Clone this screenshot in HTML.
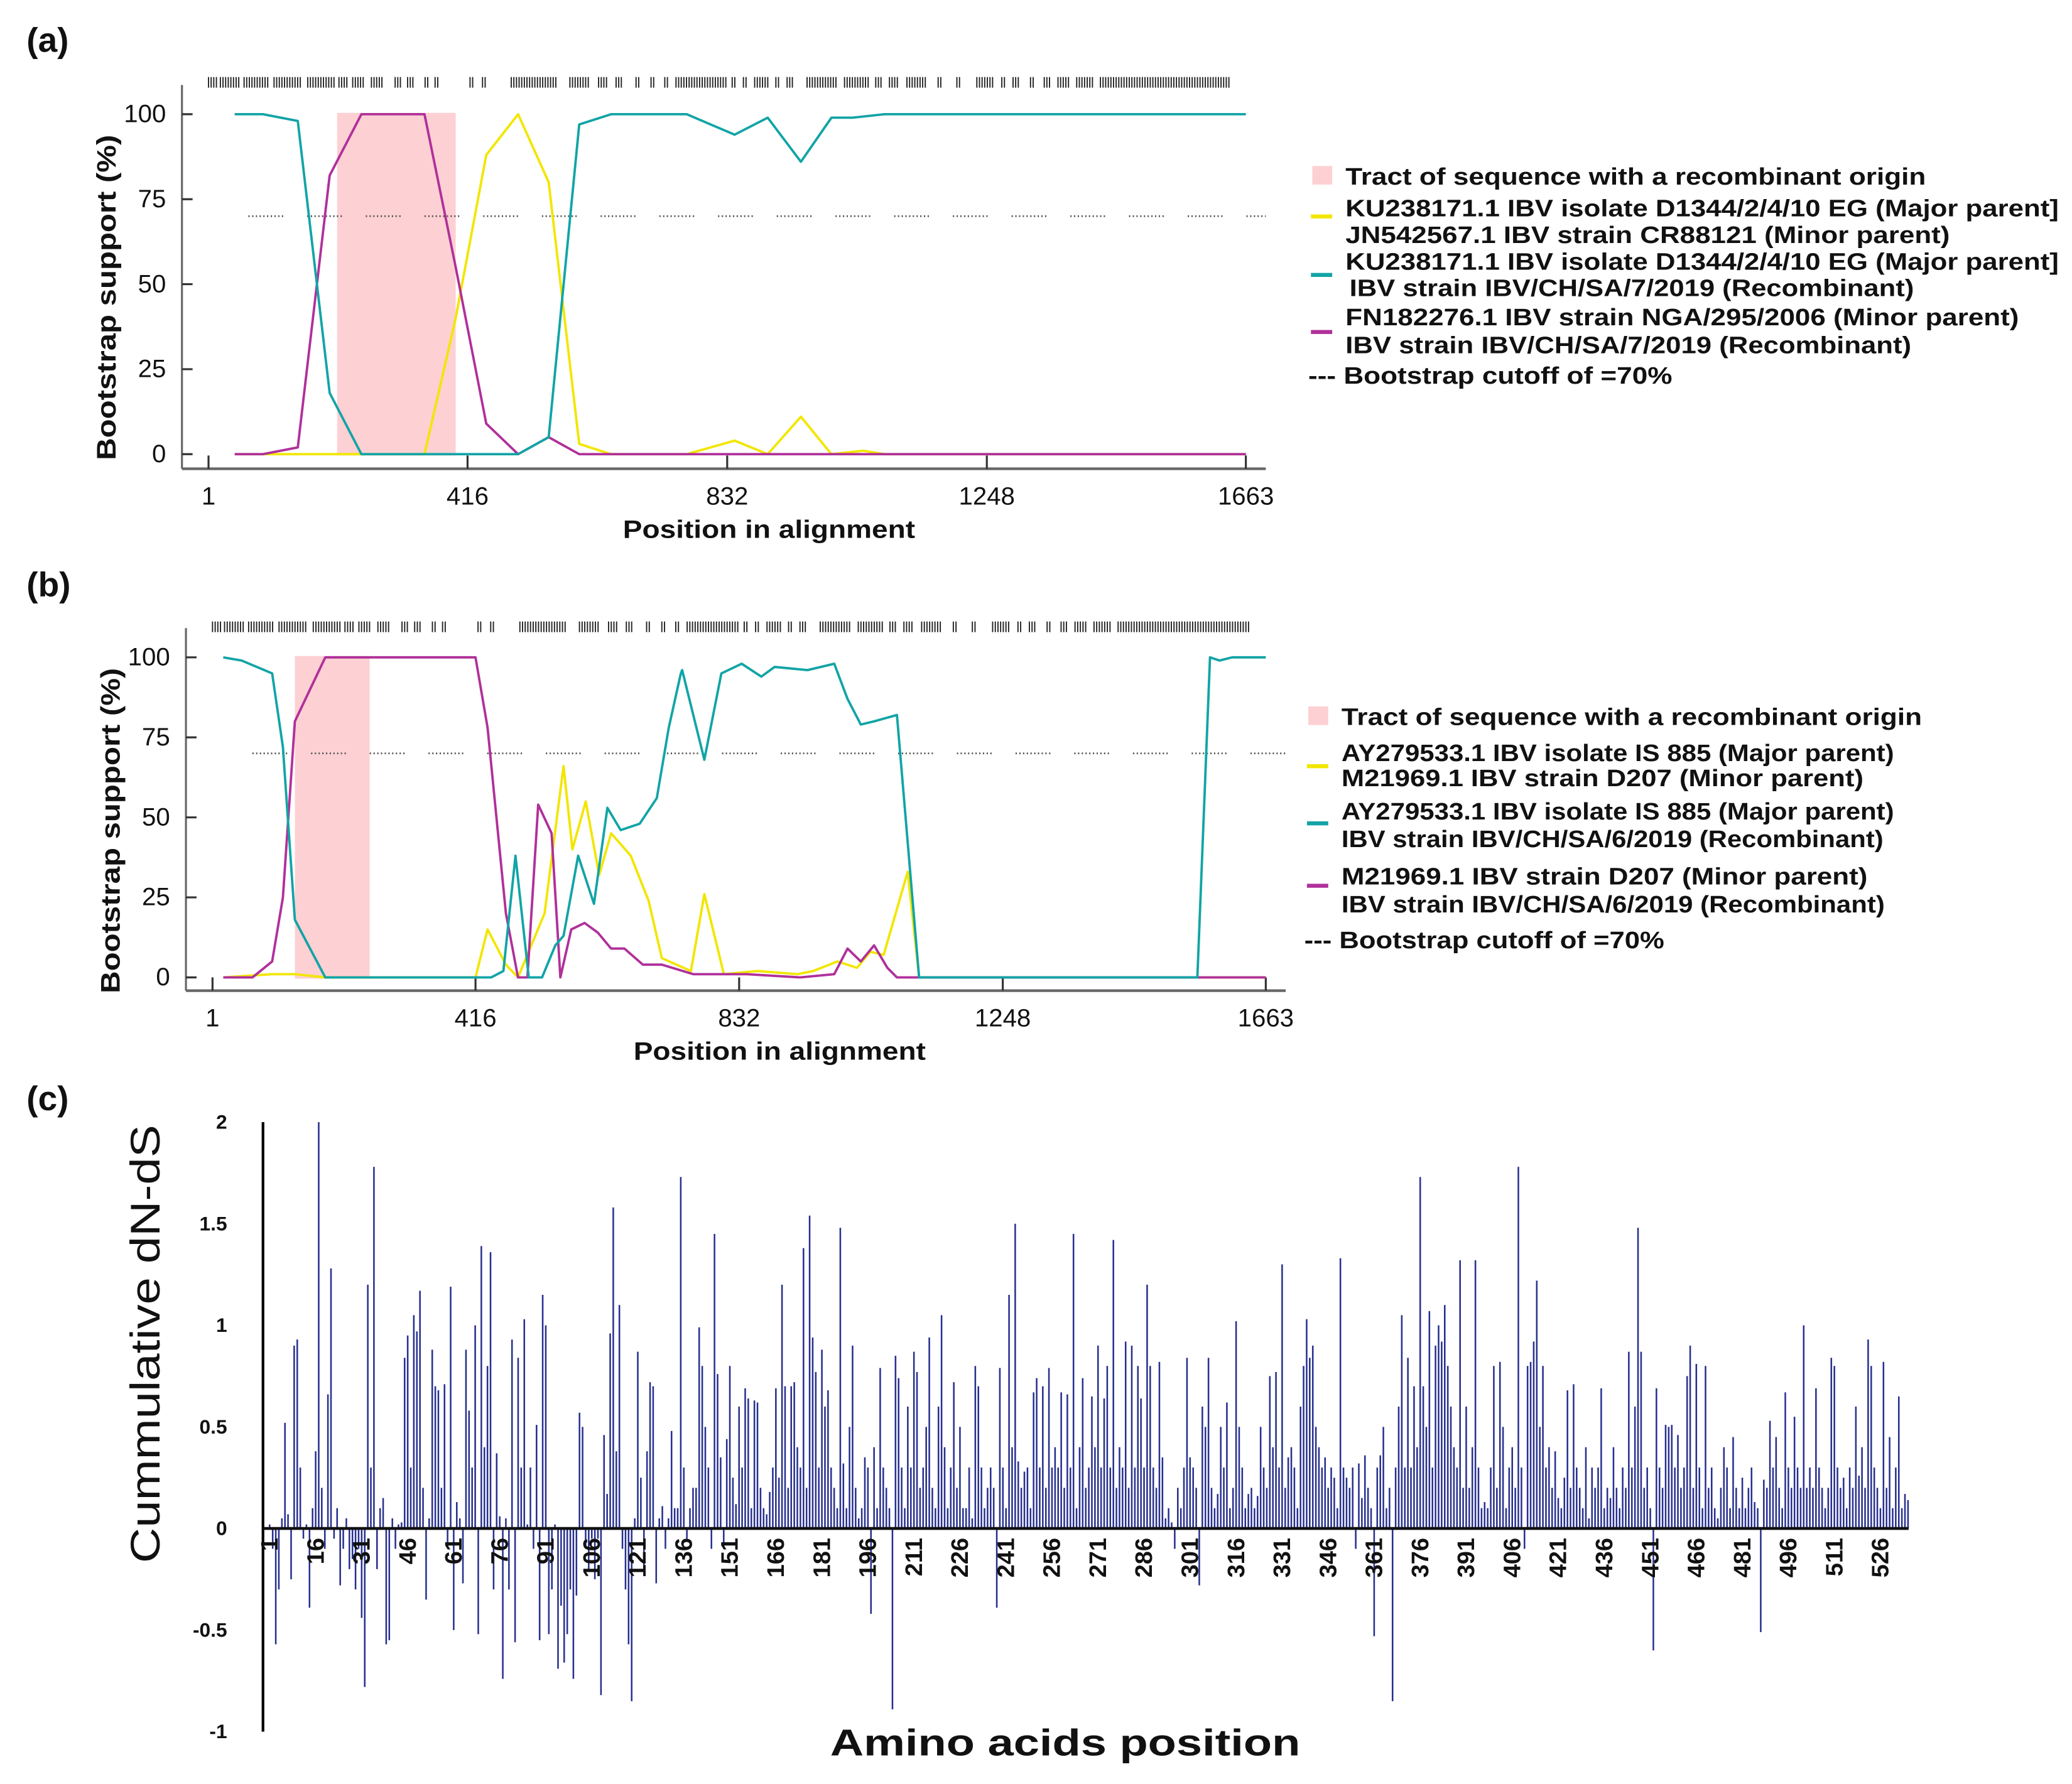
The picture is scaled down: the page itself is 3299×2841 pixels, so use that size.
<!DOCTYPE html>
<html><head><meta charset="utf-8"><style>
html,body{margin:0;padding:0;background:#fff}
svg{display:block}
text{font-family:"Liberation Sans Narrow","Liberation Sans",sans-serif;fill:#111}
</style></head><body>
<svg id="fig" xmlns="http://www.w3.org/2000/svg" width="3299" height="2841" viewBox="0 0 1560 1343.4">
<rect x="0" y="0" width="1560" height="1343.4" fill="#fff"/>
<text x="20" y="39" font-size="26" font-weight="bold">(a)</text>
<text x="20" y="449" font-size="26" font-weight="bold">(b)</text>
<text x="20" y="836" font-size="26" font-weight="bold">(c)</text>
<g id="ga"></g>
<g id="gb"></g>
<g id="gc"></g>
</svg>
<script>
// ---------- Panel (a) data: [position, bootstrap %] ----------
const aTealPos = [43,88,144,195,246,497,546,595,646,767,844,897,950,999,1033,1084,1663];
const aTealVal = [100,100,98,18,0,0,5,97,100,100,94,99,86,99,99,100,100];
const aMagPos = [43,88,144,195,246,347,397,446,497,546,595,1663];
const aMagVal = [0,0,2,82,100,100,55,9,0,5,0,0];
const aYelPos = [43,144,347,397,446,497,546,595,646,767,844,897,950,999,1050,1084,1663];
const aYelVal = [0,0,0,40,88,100,80,3,0,0,4,0,11,0,1,0,0];
const aTract = [207,397];
// ---------- Panel (b) data ----------
const bTealPos = [18,47,95,112,131,179,416,441,460,479,500,521,542,555,578,603,624,645,675,702,721,740,742,777,804,836,867,888,940,982,1003,1024,1045,1081,1116,1555,1575,1590,1610,1663];
const bTealVal = [100,99,95,72,18,0,0,0,2,38,0,0,10,13,38,23,53,46,48,56,78,95,96,68,95,98,94,97,96,98,87,79,80,82,0,0,100,99,100,100];
const bMagPos = [18,64,95,112,131,179,416,435,464,483,498,515,536,550,567,588,609,630,651,680,710,760,802,844,928,982,1003,1024,1045,1066,1081,1663];
const bMagVal = [0,0,5,25,80,100,100,78,20,0,0,54,45,0,15,17,14,9,9,4,4,1,1,1,0,1,9,5,10,3,0,0];
const bYelPos = [18,95,131,179,416,435,464,483,525,555,569,590,611,630,661,689,710,756,777,808,861,924,949,987,1018,1039,1060,1098,1116,1663];
const bYelVal = [0,1,1,0,0,15,4,0,20,66,40,55,32,45,38,24,6,2,26,1,2,1,2,5,3,8,7,33,0,0];
const bTract = [131,249];
const xTicks = [1,416,832,1248,1663];
const yTicks = [0,25,50,75,100];
// informative-site marker positions (alignment coords) – groups of [start, end]
const sitesA = [[1,14],[20,50],[58,100],[106,150],[160,205],[210,225],[232,250],[262,280],[300,310],[320,330],[348,356],[364,370],[420,428],[440,445],[486,560],[580,610],[626,640],[654,666],[686,692],[710,718],[732,738],[750,830],[840,848],[858,866],[876,900],[910,918],[928,940],[960,1010],[1020,1060],[1070,1082],[1092,1108],[1120,1150],[1170,1176],[1200,1206],[1232,1260],[1272,1280],[1290,1300],[1318,1324],[1340,1350],[1362,1380],[1392,1420],[1430,1640]];

// ---------- Panel (c) data: cumulative dN-dS per amino acid ----------
const cValues = [
0.02,-0.1,-0.57,-0.3,0.05,0.52,0.07,-0.25,0.9,0.93,
0.3,-0.05,0.02,-0.39,0.1,0.38,2.0,0.2,-0.1,0.66,
1.28,-0.05,0.1,-0.28,-0.1,0.05,-0.2,-0.15,-0.3,-0.1,
-0.44,-0.78,1.2,0.3,1.78,-0.2,0.1,0.15,-0.57,-0.55,
0.05,-0.1,0.02,0.03,0.84,0.95,0.3,1.05,0.97,1.17,
0.2,-0.35,0.05,0.88,0.7,0.68,0.2,0.71,-0.1,1.19,
-0.5,0.13,0.05,-0.27,0.88,0.58,0.3,1.0,-0.52,1.39,
0.4,0.8,1.36,-0.3,0.37,0.06,-0.74,0.05,-0.3,0.93,
-0.56,0.84,0.3,1.03,0.02,0.3,-0.1,0.51,-0.55,1.15,
1.0,-0.52,-0.3,0.02,-0.69,-0.38,-0.66,-0.52,-0.3,-0.74,
-0.33,0.57,0.5,-0.1,-0.2,-0.05,-0.25,-0.05,-0.82,0.46,
0.17,0.96,1.58,0.38,1.1,-0.1,-0.3,-0.57,-0.85,0.05,
0.87,0.25,-0.2,0.38,0.72,0.7,-0.27,0.05,0.11,-0.1,
0.05,0.48,0.1,0.1,1.73,0.3,-0.05,0.1,0.2,0.2,
0.99,0.8,0.5,0.3,-0.1,1.45,0.76,0.35,-0.1,0.44,
0.8,0.25,0.12,0.6,0.3,0.69,0.64,0.1,0.63,0.62,
0.2,0.1,0.07,0.18,0.3,0.69,0.25,1.2,0.7,0.2,
0.7,0.72,0.4,0.3,1.38,0.2,1.54,0.94,0.77,0.3,
0.88,0.6,0.68,0.3,0.2,0.1,1.48,0.32,0.1,0.5,
0.9,0.2,0.05,0.1,0.35,0.3,-0.42,0.4,0.1,0.79,
0.3,0.2,0.1,-0.89,0.85,0.74,0.3,0.1,0.6,0.3,
0.87,0.77,0.2,0.3,0.5,0.94,0.2,0.1,0.6,1.05,
0.4,0.1,0.3,0.72,0.2,0.5,0.1,0.1,0.3,0.05,
0.8,0.7,0.3,0.1,0.2,0.3,0.2,-0.39,0.79,0.3,
0.1,1.15,0.4,1.5,0.33,0.2,0.28,0.3,0.1,0.67,
0.74,0.3,0.7,0.2,0.79,0.3,0.4,0.3,0.67,0.2,
0.66,0.3,1.45,0.1,0.4,0.74,0.2,0.3,0.65,0.4,
0.9,0.3,0.64,0.8,0.3,1.42,0.2,0.4,0.3,0.92,
0.2,0.9,0.3,0.8,0.64,0.3,1.2,0.8,0.3,0.2,
0.82,0.35,0.05,0.1,0.03,-0.1,0.2,0.1,0.3,0.84,
0.35,0.3,0.2,-0.28,0.6,0.5,0.84,0.2,0.1,0.17,
0.5,0.3,0.62,0.1,0.2,1.02,0.5,0.3,0.1,0.17,
0.2,0.1,0.16,0.5,0.3,0.2,0.75,0.4,0.77,0.3,
1.3,0.2,0.35,0.4,0.3,0.1,0.6,0.8,1.03,0.84,
0.9,0.5,0.4,0.3,0.35,0.2,0.3,0.25,0.1,1.33,
0.3,0.25,0.2,0.3,-0.1,0.32,0.15,0.36,0.2,0.1,
-0.53,0.3,0.36,0.5,0.1,0.2,-0.85,0.3,0.6,1.05,
0.3,0.84,0.3,0.7,0.4,1.73,0.7,0.5,1.07,0.3,
0.9,1.0,0.92,1.1,0.8,0.6,0.4,0.3,1.32,0.2,
0.6,0.2,0.4,1.32,0.3,0.1,0.13,0.1,0.3,0.8,
0.2,0.82,0.5,0.1,0.3,0.4,0.2,1.78,0.3,-0.1,
0.8,0.82,0.92,1.22,0.5,0.8,0.3,0.4,0.2,0.38,
0.15,0.1,0.25,0.68,0.2,0.71,0.3,0.2,0.1,0.4,
0.05,0.3,0.2,0.3,0.69,0.1,0.2,0.15,0.4,0.2,
0.1,0.3,0.2,0.87,0.3,0.6,1.48,0.87,0.2,0.3,
0.1,-0.6,0.69,0.3,0.2,0.51,0.5,0.51,0.3,0.46,
0.2,0.3,0.75,0.9,0.2,0.81,0.3,0.1,0.8,0.2,
0.3,0.1,0.05,0.2,0.4,0.3,0.1,0.45,0.2,0.1,
0.25,0.1,0.2,0.3,0.13,0.1,-0.51,0.24,0.2,0.53,
0.3,0.45,0.2,0.1,0.67,0.3,0.2,0.55,0.3,0.2,
1.0,0.2,0.3,0.2,0.69,0.3,0.2,0.1,0.2,0.84,
0.8,0.3,0.2,0.25,0.1,0.3,0.2,0.6,0.26,0.4,
0.2,0.93,0.8,0.3,0.2,0.1,0.82,0.2,0.45,0.1,
0.3,0.65,0.1,0.17,0.14];
const cYTicks = [2,1.5,1,0.5,0,-0.5,-1];
const cXTicks = [1,16,31,46,61,76,91,106,121,136,151,166,181,196,211,226,241,256,271,286,301,316,331,346,361,376,391,406,421,436,451,466,481,496,511,526];

const NS='http://www.w3.org/2000/svg';
function mk(parent,tag,attrs,txt){const e=document.createElementNS(NS,tag);for(const k in attrs)e.setAttribute(k,attrs[k]);if(txt!==undefined)e.textContent=txt;parent.appendChild(e);return e;}

const dotDash = (function(){const a=[];for(let i=0;i<10;i++){a.push(1);a.push(i<9?1.8:18);}return a.join(',');})();

function recombPanel(g,cfg){
  const xs=p=>cfg.x0+(p-1)/1662*(cfg.x1-cfg.x0);
  const ys=v=>cfg.y0-v/100*(cfg.y0-cfg.y100);
  const tr=mk(g,'rect',{x:xs(cfg.tract[0]),y:ys(100)-1,width:xs(cfg.tract[1])-xs(cfg.tract[0]),height:ys(0)-ys(100)+2,fill:'#fdd0d3'});
  
  
  const sg=mk(g,'g',{});
  
  
  cfg.sites.forEach(([s,e])=>{
    for(let p=s;p<=e;p+=4.2){
      const x=xs(p);
      mk(sg,'line',{x1:x,x2:x,y1:cfg.siteY,y2:cfg.siteY+8,stroke:'#222','stroke-width':0.9});
    }
  });
  const co=mk(g,'line',{x1:cfg.ax+50,x2:cfg.axEnd,y1:ys(70),y2:ys(70),stroke:'#555','stroke-width':1.3,'stroke-dasharray':dotDash});
  
  
  const ax=mk(g,'g',{});
  
  
  mk(ax,'line',{x1:cfg.ax,x2:cfg.ax,y1:ys(100)-22,y2:cfg.by,stroke:'#666','stroke-width':1.5});
  mk(ax,'line',{x1:cfg.ax,x2:cfg.axEnd,y1:cfg.by,y2:cfg.by,stroke:'#666','stroke-width':2});
  yTicks.forEach(v=>{
    mk(ax,'line',{x1:cfg.ax,x2:cfg.ax+8,y1:ys(v),y2:ys(v),stroke:'#333','stroke-width':1.5});
    const t=mk(ax,'text',{x:cfg.ax-12,y:ys(v)+6,'font-size':19,'text-anchor':'end'},String(v));
    
    
  });
  xTicks.forEach(p=>{
    mk(ax,'line',{x1:xs(p),x2:xs(p),y1:cfg.by-10,y2:cfg.by,stroke:'#333','stroke-width':1.5});
    const t=mk(ax,'text',{x:xs(p),y:cfg.by+27,'font-size':19,'text-anchor':'middle'},String(p));
    
    
  });
  const xt=mk(g,'text',{x:cfg.titleX,y:cfg.by+52,'font-size':19,'font-weight':'bold','text-anchor':'middle',textLength:220,lengthAdjust:'spacingAndGlyphs'},'Position in alignment');
  
  
  const yc=(ys(0)+ys(100))/2+10;
  const yt=mk(g,'text',{x:0,y:0,'font-size':20,'font-weight':'bold','text-anchor':'middle',transform:`translate(${cfg.ax-50},${yc}) rotate(-90)`,textLength:245,lengthAdjust:'spacingAndGlyphs'},'Bootstrap support (%)');
  
  
  cfg.series.forEach(s=>{
    const d=s.pos.map((p,i)=>(i?'L':'M')+xs(p).toFixed(1)+','+ys(s.val[i]).toFixed(1)).join('');
    const pl=mk(g,'path',{d:d,fill:'none',stroke:s.color,'stroke-width':1.8,'stroke-linejoin':'round'});
    
    
  });
  const lg=mk(g,'g',{});
  
  
  const L=cfg.legend;
  mk(lg,'rect',{x:L.x-25,y:L.tractY-8,width:15,height:14,fill:'#fdd0d3'});
  mk(lg,'text',{x:L.x,y:L.tractY+6,'font-size':18,'font-weight':'bold',textLength:L.tractW,lengthAdjust:'spacingAndGlyphs'},'Tract of sequence with a recombinant origin');
  L.entries.forEach(en=>{
    const eg=mk(lg,'g',{});
    
    
    mk(eg,'line',{x1:L.x-26,x2:L.x-10,y1:en.lineY,y2:en.lineY,stroke:en.color,'stroke-width':3});
    en.lines.forEach((ln,i)=>mk(eg,'text',{x:L.x+(ln[2]||0),y:en.textY[i]+6,'font-size':18,'font-weight':'bold',textLength:ln[1],lengthAdjust:'spacingAndGlyphs'},ln[0]));
  });
  mk(lg,'text',{x:L.x-28,y:L.cutY+6,'font-size':18,'font-weight':'bold',textLength:L.cutW,lengthAdjust:'spacingAndGlyphs'},'--- Bootstrap cutoff of =70%');
}

recombPanel(document.getElementById('ga'),{
  x0:157,x1:938,y0:342,y100:86,ax:137,axEnd:953,by:353,siteY:58,titleX:579,tract:aTract,sites:sitesA,
  series:[{name:'series-yellow',color:'#f2e600',pos:aYelPos,val:aYelVal},{name:'series-magenta',color:'#b0309a',pos:aMagPos,val:aMagVal},{name:'series-teal',color:'#12a4a6',pos:aTealPos,val:aTealVal}],
  legend:{x:1013,tractY:133,tractW:437,cutY:283,cutW:274,entries:[
    {color:'#f2e600',lineY:163,textY:[157,177],lines:[['KU238171.1 IBV isolate D1344/2/4/10 EG (Major parent]',537],['JN542567.1 IBV strain CR88121 (Minor parent)',455]]},
    {color:'#12a4a6',lineY:207,textY:[197,217],lines:[['KU238171.1 IBV isolate D1344/2/4/10 EG (Major parent]',537],['IBV strain IBV/CH/SA/7/2019 (Recombinant)',425,3]]},
    {color:'#b0309a',lineY:250,textY:[239,260],lines:[['FN182276.1 IBV strain NGA/295/2006 (Minor parent)',507],['IBV strain IBV/CH/SA/7/2019 (Recombinant)',426]]}]}
});
recombPanel(document.getElementById('gb'),{
  x0:160,x1:953,y0:736,y100:495,ax:140,axEnd:968,by:746,siteY:468,titleX:587,tract:bTract,sites:sitesA,
  series:[{name:'series-yellow',color:'#f2e600',pos:bYelPos,val:bYelVal},{name:'series-magenta',color:'#b0309a',pos:bMagPos,val:bMagVal},{name:'series-teal',color:'#12a4a6',pos:bTealPos,val:bTealVal}],
  legend:{x:1010,tractY:540,tractW:437,cutY:708,cutW:271,entries:[
    {color:'#f2e600',lineY:577,textY:[567,586],lines:[['AY279533.1 IBV isolate IS 885 (Major parent)',416],['M21969.1 IBV strain D207 (Minor parent)',393]]},
    {color:'#12a4a6',lineY:620,textY:[611,632],lines:[['AY279533.1 IBV isolate IS 885 (Major parent)',416],['IBV strain IBV/CH/SA/6/2019 (Recombinant)',408]]},
    {color:'#b0309a',lineY:667,textY:[660,681],lines:[['M21969.1 IBV strain D207 (Minor parent)',396],['IBV strain IBV/CH/SA/6/2019 (Recombinant)',409]]}]}
});

// ---------- Panel (c) ----------
(function(){
  const g=document.getElementById('gc');
  const xc=aa=>203+(aa-1)*2.31;
  const yc=v=>1151-v*153;
  const bars=mk(g,'g',{});
  
  
  cValues.forEach((v,i)=>{
    const x=xc(i+1);
    const r=mk(bars,'rect',{x:x-0.6,y:Math.min(yc(v),yc(0)),width:1.2,height:Math.abs(yc(v)-yc(0)),fill:'#27308f'});
    
    
  });
  const ya=mk(g,'line',{x1:198,x2:198,y1:yc(2),y2:yc(-1),stroke:'#000','stroke-width':2});
  
  
  const xa=mk(g,'line',{x1:198,x2:1437,y1:yc(0),y2:yc(0),stroke:'#111','stroke-width':2.2});
  
  
  cYTicks.forEach(v=>{
    const t=mk(g,'text',{x:171,y:yc(v)+5,'font-size':15,'font-weight':'bold','text-anchor':'end'},String(v));
    
    
  });
  cXTicks.forEach(aa=>{
    const t=mk(g,'text',{x:0,y:0,'font-size':18,'font-weight':'bold','text-anchor':'end',transform:`translate(${xc(aa)+6},${yc(0)+7}) rotate(-90)`},String(aa));
    
    
  });
  const yt=mk(g,'text',{x:0,y:0,'font-size':31,'text-anchor':'middle',transform:'translate(120,1012) rotate(-90)',textLength:330,lengthAdjust:'spacingAndGlyphs'},'Cummulative dN-dS');
  
  
  const xt=mk(g,'text',{x:802,y:1322,'font-size':28,'font-weight':'bold','text-anchor':'middle',textLength:354,lengthAdjust:'spacingAndGlyphs'},'Amino acids position');
  
  
})();
</script>
</body></html>
